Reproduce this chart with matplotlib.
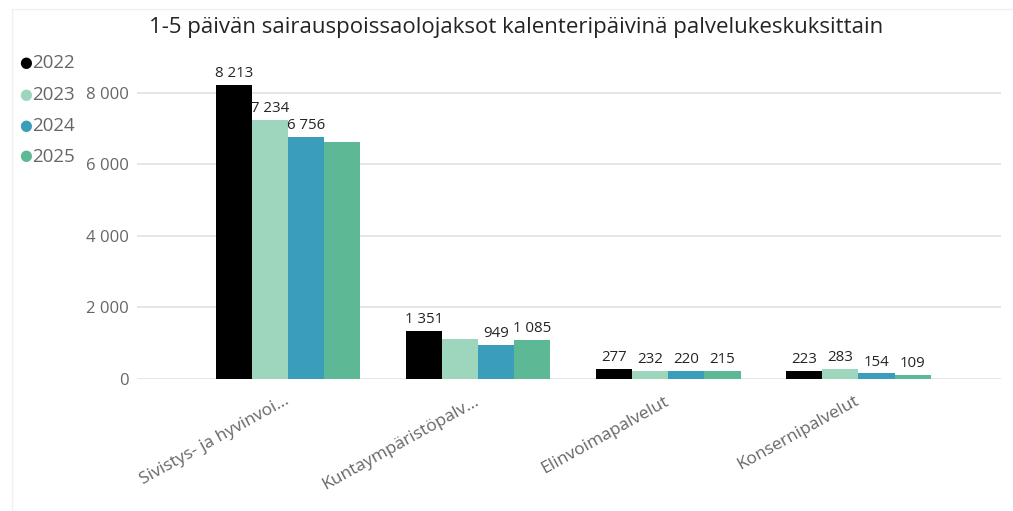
import matplotlib
matplotlib.use("Agg")
import matplotlib.pyplot as plt
import matplotlib.transforms as mtransforms
import numpy as np
from matplotlib.patches import Rectangle

plt.rcParams['font.family'] = ['Open Sans', 'DejaVu Sans']

title = "1-5 päivän sairauspoissaolojaksot kalenteripäivinä palvelukeskuksittain"
categories = ["Sivistys- ja hyvinvoi...", "Kuntaympäristöpalv...", "Elinvoimapalvelut", "Konsernipalvelut"]
years = ["2022", "2023", "2024", "2025"]
v2022 = [8213, 1351, 277, 223]
v2023 = [7234, 1110, 232, 283]
v2024 = [6756, 949, 220, 154]
v2025 = [6630, 1085, 215, 109]
# data labels shown in the reference (Power BI hides overlapping ones)
show2022 = [True, True, True, True]
show2023 = [True, False, True, True]
show2024 = [True, True, True, True]
show2025 = [False, True, True, True]
yticks = [0, 2000, 4000, 6000, 8000]
ytick_labels = ["0", "2 000", "4 000", "6 000", "8 000"]

colors = ["#000000", "#9dd5bd", "#3a9ebb", "#5db896"]
series = [v2022, v2023, v2024, v2025]
shows = [show2022, show2023, show2024, show2025]

fig = plt.figure(figsize=(10.13, 5.11), dpi=100)
ax = fig.add_axes([137/1013, 1-379/511, (1001-137)/1013, (379-57)/511])

x = np.arange(len(categories))
bw = 0.19
for i, (vals, col, sh) in enumerate(zip(series, colors, shows)):
    pos = x + (i - 1.5) * bw
    ax.bar(pos, vals, width=bw, color=col, zorder=3, label=years[i])
    for p, v, s in zip(pos, vals, sh):
        if s:
            lbl = f"{v:,}".replace(",", " ")
            ax.text(p, v + 110, lbl, ha='center', va='bottom', fontsize=10.8,
                    color='#252423', zorder=4)

ax.set_xlim(-0.795, 3.75)
ax.set_ylim(0, 9000)
ax.set_yticks(yticks)
ax.set_yticklabels(ytick_labels, fontsize=12, color='#666666')
ax.yaxis.grid(True, color='#e1e1e1', linewidth=1.2, zorder=0)
ax.tick_params(axis='y', length=0, pad=6)
ax.set_xticks(x)
ax.set_xticklabels([])
ax.tick_params(axis='x', length=0)
for s in ax.spines.values():
    s.set_visible(False)

# category labels, rotated
trans = mtransforms.blended_transform_factory(ax.transData, ax.transAxes) + \
    mtransforms.ScaledTranslation(-4/100, -14/100, fig.dpi_scale_trans)
for xi, cat in zip(x, categories):
    ax.text(xi, 0, cat, transform=trans, rotation=29, ha='right', va='top',
            rotation_mode='anchor', fontsize=12.5, color='#666666')

fig.text(516/1013, 1-28/511, title, ha='center', va='center', fontsize=16, color='#252423')

# legend
leg_y = [63, 95, 126, 157]
for yy, col, yr in zip(leg_y, colors, years):
    fig.text(19/1013, 1-yy/511, "●", ha='left', va='center', fontsize=10.5, color=col)
    fig.text(32/1013, 1-yy/511, yr, ha='left', va='center', fontsize=13.5, color='#666666')

# faint frame
fig.add_artist(Rectangle((12/1013, -0.1), 1.2, 1-9/511+0.1, transform=fig.transFigure,
                         fill=False, edgecolor='#f0f0f0', linewidth=1))

fig.savefig("out.png", dpi=100)
